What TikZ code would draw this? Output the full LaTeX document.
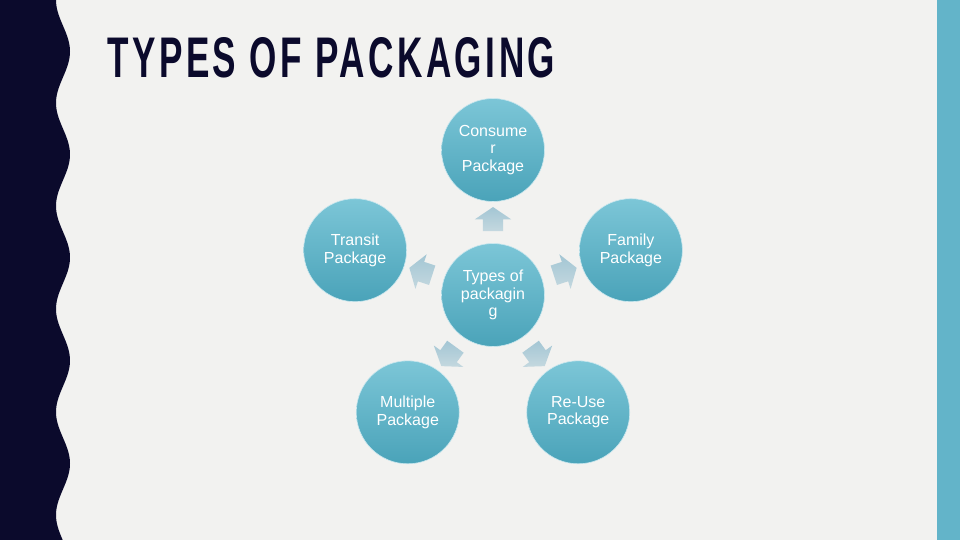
\documentclass[tikz,border=0pt]{standalone}
\usepackage{fontspec}
\setmainfont{Liberation Sans}
\newfontfamily\titlefont[LetterSpace=10]{Liberation Sans}
\usetikzlibrary{shapes.arrows, positioning, calc}
\definecolor{navy}{HTML}{0B0A2C}
\definecolor{paper}{HTML}{F2F2F0}
\definecolor{sideband}{HTML}{63B4C9}
\definecolor{circtop}{HTML}{7CC6D7}
\definecolor{circbot}{HTML}{4AA3B9}
\definecolor{arrtop}{HTML}{A3C6D4}
\definecolor{arrbot}{HTML}{C4D8DF}
\tikzstyle{pkg} = [circle, minimum size=103pt, inner sep=0pt, top color=circtop, bottom color=circbot, draw=white!60!circtop, line width=0.6pt, text=white, align=center, font=\fontsize{16}{17.5}\selectfont]
\tikzstyle{pointer} = [single arrow, inner xsep=0pt, inner ysep=10pt, minimum height=24pt, single arrow head extend=8pt, single arrow tip angle=112, top color=arrtop, bottom color=arrbot]

\begin{document}
\begin{tikzpicture}[x=1pt, y=1pt]
    % Background and side bands
    \fill[paper] (0,0) rectangle (960,540);
    \fill[sideband] (937,0) rectangle (960,540);
    \fill[navy] (0,0) -- plot[domain=0:540, samples=220] ({63-7*cos(3.4951*(540-\x))}, \x) -- (0,540) -- cycle;

    % Title
    \node (title) [anchor=south west, inner sep=0pt, text=navy] at (107,462) {\resizebox{448pt}{40pt}{\titlefont\bfseries TYPES OF PACKAGING}};

    % Circles
    \node (types) [pkg] at (493,245) {Types of\\packagin\\g};
    \node (consumer) [pkg] at ($(types)+(90:145)$) {Consume\\r\\Package};
    \node (transit) [pkg] at ($(types)+(162:145)$) {Transit\\Package};
    \node (family) [pkg] at ($(types)+(18:145)$) {Family\\Package};
    \node (multiple) [pkg] at ($(types)+(234:145)$) {Multiple\\Package};
    \node (reuse) [pkg] at ($(types)+(306:145)$) {Re-Use\\Package};

    % Arrows pointing out
    \node (toconsumer) [pointer, rotate=90] at ($(types)!0.5!(consumer)$) {};
    \node (totransit) [pointer, rotate=162] at ($(types)!0.5!(transit)$) {};
    \node (tofamily) [pointer, rotate=18] at ($(types)!0.5!(family)$) {};
    \node (tomultiple) [pointer, rotate=234] at ($(types)!0.5!(multiple)$) {};
    \node (toreuse) [pointer, rotate=306] at ($(types)!0.5!(reuse)$) {};
\end{tikzpicture}
\end{document}
